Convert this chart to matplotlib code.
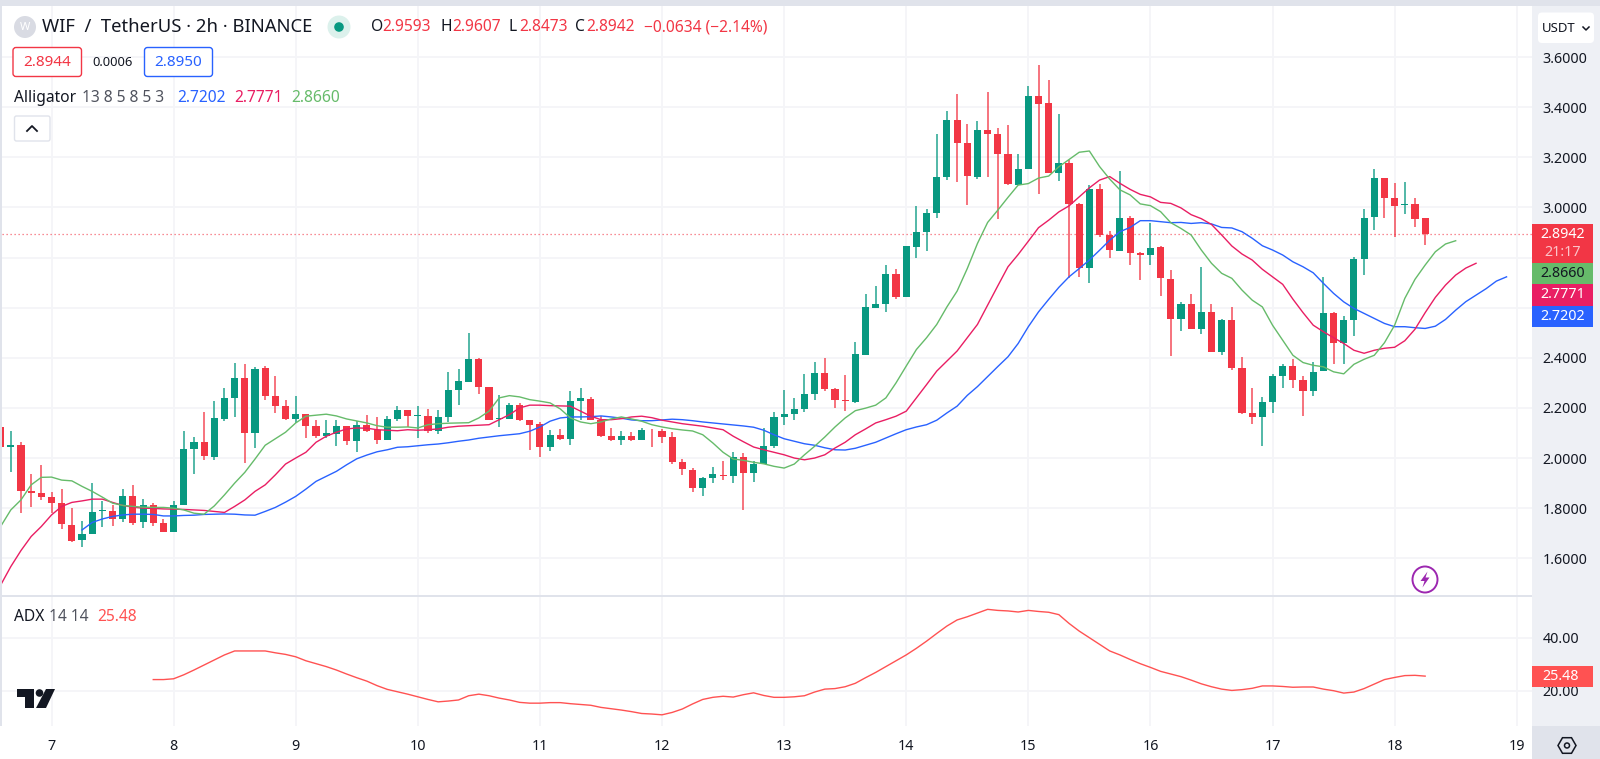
import numpy as np
import matplotlib
matplotlib.use("Agg")
import matplotlib.pyplot as plt
from matplotlib.patches import Rectangle, FancyBboxPatch, Circle, Polygon, RegularPolygon, Ellipse

plt.rcParams['font.family'] = ['Noto Sans', 'DejaVu Sans']

# candles, one every 2h, bar 0 is the 7th at 00:00
first_bar = -5
opens = [2.124, 2.044, 2.053, 1.868, 1.859,
         1.845, 1.819, 1.731, 1.673, 1.696, 1.787, 1.787, 1.757, 1.847, 1.744, 1.813, 1.741,
         1.703, 1.813, 2.036, 2.065, 2.004, 2.156, 2.241, 2.320, 2.099, 2.360, 2.249, 2.208,
         2.156, 2.177, 2.127, 2.089, 2.097, 2.127, 2.067, 2.131, 2.111, 2.071, 2.156, 2.191,
         2.169, 2.169, 2.108, 2.163, 2.271, 2.305, 2.397, 2.285, 2.157, 2.156, 2.213, 2.152,
         2.137, 2.045, 2.091, 2.075, 2.228, 2.237, 2.153, 2.089, 2.071, 2.088, 2.073, 2.113,
         2.109, 2.084, 1.984, 1.953, 1.879, 1.919, 1.933, 1.927, 2.003, 1.939, 1.977, 2.047,
         2.165, 2.177, 2.196, 2.256, 2.340, 2.275, 2.233, 2.224, 2.412, 2.599, 2.613, 2.736,
         2.641, 2.843, 2.903, 2.977, 3.121, 3.348, 3.256, 3.123, 3.308, 3.292, 3.214, 3.090,
         3.155, 3.445, 3.415, 3.139, 3.177, 3.012, 2.759, 3.072, 2.891, 2.828, 2.956, 2.819,
         2.812, 2.842, 2.715, 2.556, 2.615, 2.516, 2.581, 2.425, 2.549, 2.361, 2.181, 2.163,
         2.225, 2.328, 2.366, 2.311, 2.267, 2.347, 2.578, 2.460, 2.549, 2.794, 2.960, 3.117,
         3.039, 3.011, 3.014, 2.959]
closes = [2.044, 2.053, 1.869, 1.859, 1.843,
          1.819, 1.735, 1.671, 1.696, 1.783, 1.791, 1.757, 1.847, 1.741, 1.813, 1.739, 1.705,
          1.813, 2.036, 2.065, 2.007, 2.160, 2.241, 2.320, 2.099, 2.357, 2.249, 2.208, 2.156,
          2.177, 2.127, 2.089, 2.099, 2.127, 2.067, 2.131, 2.109, 2.071, 2.157, 2.191, 2.167,
          2.172, 2.108, 2.163, 2.272, 2.308, 2.397, 2.285, 2.152, 2.161, 2.213, 2.152, 2.133,
          2.045, 2.091, 2.075, 2.229, 2.240, 2.153, 2.089, 2.071, 2.088, 2.072, 2.112, 2.112,
          2.084, 1.984, 1.955, 1.879, 1.919, 1.935, 1.927, 2.004, 1.939, 1.977, 2.047, 2.164,
          2.177, 2.196, 2.257, 2.340, 2.275, 2.233, 2.227, 2.416, 2.601, 2.613, 2.736, 2.643,
          2.844, 2.903, 2.977, 3.122, 3.348, 3.255, 3.125, 3.308, 3.294, 3.214, 3.093, 3.155,
          3.445, 3.413, 3.139, 3.177, 3.012, 2.759, 3.072, 2.891, 2.829, 2.956, 2.819, 2.812,
          2.839, 2.719, 2.556, 2.615, 2.516, 2.581, 2.425, 2.550, 2.361, 2.180, 2.163, 2.225,
          2.329, 2.366, 2.311, 2.267, 2.344, 2.578, 2.460, 2.549, 2.794, 2.959, 3.117, 3.039,
          3.007, 3.014, 2.955, 2.894]
highs = [2.129, 2.107, 2.064, 1.937, 1.972,
         1.863, 1.877, 1.800, 1.749, 1.900, 1.829, 1.813, 1.877, 1.891, 1.837, 1.820, 1.756,
         1.829, 2.107, 2.084, 2.183, 2.229, 2.279, 2.380, 2.376, 2.364, 2.369, 2.327, 2.233,
         2.247, 2.177, 2.153, 2.153, 2.153, 2.127, 2.147, 2.173, 2.163, 2.169, 2.207, 2.191,
         2.207, 2.196, 2.193, 2.343, 2.357, 2.497, 2.400, 2.285, 2.251, 2.220, 2.220, 2.152,
         2.143, 2.113, 2.117, 2.269, 2.281, 2.244, 2.167, 2.119, 2.107, 2.103, 2.120, 2.115,
         2.116, 2.103, 1.996, 1.960, 1.923, 1.965, 1.989, 2.024, 2.020, 1.987, 2.120, 2.185,
         2.271, 2.241, 2.335, 2.383, 2.401, 2.280, 2.332, 2.463, 2.653, 2.686, 2.770, 2.756,
         2.847, 3.006, 2.993, 3.294, 3.384, 3.451, 3.333, 3.344, 3.459, 3.315, 3.330, 3.215,
         3.484, 3.568, 3.508, 3.372, 3.189, 3.018, 3.090, 3.093, 2.907, 3.146, 2.965, 2.823,
         2.936, 2.846, 2.749, 2.621, 2.653, 2.762, 2.613, 2.554, 2.602, 2.402, 2.279, 2.243,
         2.334, 2.377, 2.394, 2.329, 2.385, 2.721, 2.581, 2.566, 2.801, 2.994, 3.153, 3.119,
         3.096, 3.103, 3.039, 2.959]
lows = [2.044, 1.943, 1.780, 1.803, 1.833,
        1.780, 1.716, 1.664, 1.647, 1.696, 1.724, 1.727, 1.743, 1.732, 1.719, 1.729, 1.704,
        1.703, 1.813, 1.935, 1.993, 1.991, 2.147, 2.164, 1.980, 2.039, 2.233, 2.180, 2.153,
        2.140, 2.079, 2.079, 2.079, 2.047, 2.053, 2.023, 2.105, 2.057, 2.071, 2.149, 2.124,
        2.080, 2.100, 2.097, 2.145, 2.213, 2.305, 2.257, 2.152, 2.124, 2.156, 2.147, 2.032,
        2.003, 2.029, 2.073, 2.052, 2.153, 2.153, 2.084, 2.068, 2.052, 2.068, 2.073, 2.045,
        2.060, 1.975, 1.931, 1.863, 1.848, 1.899, 1.912, 1.899, 1.791, 1.903, 1.977, 2.039,
        2.131, 2.151, 2.183, 2.233, 2.268, 2.201, 2.187, 2.221, 2.412, 2.599, 2.583, 2.633,
        2.641, 2.800, 2.827, 2.957, 3.109, 3.102, 3.009, 3.114, 3.122, 2.954, 3.088, 3.088,
        3.155, 3.052, 3.139, 3.106, 2.720, 2.723, 2.699, 2.880, 2.799, 2.828, 2.771, 2.711,
        2.771, 2.647, 2.409, 2.508, 2.516, 2.496, 2.422, 2.412, 2.352, 2.177, 2.137, 2.048,
        2.179, 2.279, 2.280, 2.168, 2.249, 2.347, 2.374, 2.377, 2.488, 2.731, 2.911, 2.958,
        2.882, 2.974, 2.923, 2.849]

# alligator lines
lips_start = -5
lips = [1.727, 1.793, 1.833, 1.893, 1.923, 1.924, 1.912, 1.909, 1.887, 1.867, 1.844, 1.820, 1.811,
        1.807, 1.804, 1.803, 1.803, 1.800, 1.793, 1.780, 1.776, 1.809, 1.853, 1.900, 1.943, 1.996,
        2.051, 2.077, 2.103, 2.140, 2.167, 2.171, 2.175, 2.168, 2.156, 2.148, 2.140, 2.129, 2.123,
        2.123, 2.124, 2.120, 2.133, 2.137, 2.139, 2.140, 2.141, 2.160, 2.187, 2.240, 2.249, 2.244,
        2.233, 2.227, 2.220, 2.196, 2.160, 2.144, 2.137, 2.144, 2.156, 2.164, 2.156, 2.147, 2.133,
        2.124, 2.117, 2.112, 2.108, 2.093, 2.060, 2.023, 1.996, 1.991, 1.983, 1.977, 1.967, 1.960,
        1.976, 2.013, 2.047, 2.084, 2.124, 2.160, 2.189, 2.199, 2.211, 2.240, 2.300, 2.367, 2.433,
        2.480, 2.533, 2.603, 2.666, 2.756, 2.856, 2.940, 2.989, 3.040, 3.089, 3.095, 3.117, 3.125,
        3.162, 3.191, 3.220, 3.225, 3.163, 3.113, 3.070, 3.050, 3.014, 3.007, 2.983, 2.939, 2.916,
        2.890, 2.830, 2.777, 2.737, 2.717, 2.670, 2.630, 2.603, 2.530, 2.470, 2.410, 2.381, 2.370,
        2.364, 2.344, 2.336, 2.374, 2.394, 2.410, 2.460, 2.530, 2.637, 2.713, 2.770, 2.823, 2.854,
        2.867]
teeth_start = -5
teeth = [1.493, 1.567, 1.631, 1.687, 1.727, 1.773, 1.807, 1.823, 1.829, 1.836, 1.836, 1.823, 1.811,
         1.804, 1.800, 1.799, 1.797, 1.796, 1.795, 1.793, 1.791, 1.787, 1.783, 1.807, 1.833, 1.867,
         1.893, 1.933, 1.976, 2.000, 2.023, 2.063, 2.087, 2.103, 2.116, 2.120, 2.119, 2.113, 2.111,
         2.109, 2.113, 2.111, 2.113, 2.116, 2.123, 2.127, 2.129, 2.131, 2.133, 2.153, 2.173, 2.200,
         2.211, 2.211, 2.209, 2.208, 2.207, 2.187, 2.167, 2.153, 2.153, 2.157, 2.164, 2.167, 2.161,
         2.151, 2.144, 2.137, 2.132, 2.127, 2.120, 2.113, 2.087, 2.065, 2.044, 2.033, 2.023, 2.013,
         2.000, 1.993, 2.000, 2.013, 2.040, 2.063, 2.093, 2.116, 2.140, 2.153, 2.167, 2.187, 2.240,
         2.293, 2.347, 2.387, 2.427, 2.480, 2.533, 2.610, 2.687, 2.763, 2.812, 2.865, 2.919, 2.949,
         2.982, 3.006, 3.042, 3.078, 3.109, 3.123, 3.096, 3.072, 3.052, 3.042, 3.020, 3.016, 2.998,
         2.971, 2.955, 2.932, 2.890, 2.846, 2.814, 2.790, 2.753, 2.723, 2.693, 2.634, 2.580, 2.530,
         2.504, 2.480, 2.457, 2.430, 2.418, 2.430, 2.438, 2.442, 2.468, 2.514, 2.580, 2.641, 2.690,
         2.730, 2.758, 2.777]
jaw_start = 3
jaw = [1.713, 1.743, 1.757, 1.767, 1.773, 1.776, 1.776, 1.775, 1.769, 1.769, 1.771, 1.772, 1.775,
       1.776, 1.777, 1.776, 1.773, 1.772, 1.787, 1.803, 1.824, 1.847, 1.876, 1.907, 1.927, 1.947,
       1.973, 1.997, 2.012, 2.025, 2.033, 2.043, 2.045, 2.049, 2.053, 2.056, 2.061, 2.067, 2.072,
       2.079, 2.084, 2.089, 2.093, 2.097, 2.107, 2.124, 2.147, 2.160, 2.164, 2.164, 2.165, 2.168,
       2.164, 2.159, 2.152, 2.149, 2.149, 2.152, 2.155, 2.153, 2.149, 2.144, 2.140, 2.136, 2.132,
       2.128, 2.123, 2.111, 2.093, 2.077, 2.067, 2.057, 2.051, 2.041, 2.033, 2.032, 2.039, 2.051,
       2.063, 2.080, 2.097, 2.113, 2.124, 2.133, 2.151, 2.180, 2.207, 2.250, 2.285, 2.325, 2.365,
       2.404, 2.457, 2.524, 2.583, 2.633, 2.681, 2.723, 2.756, 2.790, 2.829, 2.869, 2.903, 2.920,
       2.947, 2.947, 2.943, 2.939, 2.940, 2.936, 2.939, 2.934, 2.920, 2.918, 2.903, 2.877, 2.847,
       2.830, 2.810, 2.783, 2.763, 2.739, 2.697, 2.657, 2.623, 2.597, 2.577, 2.557, 2.537, 2.524,
       2.524, 2.520, 2.517, 2.526, 2.553, 2.590, 2.624, 2.650, 2.676, 2.706, 2.723]

adx_start = 10
adx = [24.2, 24.2, 24.5, 26.0, 27.8, 29.7, 31.6, 33.5, 35.0, 35.0, 35.0, 35.0, 34.3, 33.7, 32.8, 31.3,
       30.2, 29.1, 27.8, 26.3, 24.9, 23.6, 21.9, 20.5, 19.6, 18.7, 17.7, 16.7, 15.8, 16.1, 16.5, 18.1,
       18.7, 18.1, 17.2, 16.5, 15.6, 15.3, 15.3, 15.5, 15.5, 15.1, 14.8, 14.5, 13.7, 13.2, 12.7, 12.1,
       11.4, 11.2, 10.9, 11.8, 13.1, 15.0, 16.7, 17.5, 17.9, 17.6, 18.5, 19.2, 18.2, 17.5, 17.5, 17.7,
       18.1, 19.5, 20.6, 20.8, 21.5, 22.8, 24.9, 26.9, 29.1, 31.3, 33.5, 36.0, 38.7, 41.6, 44.4, 46.7,
       47.9, 49.3, 50.7, 50.3, 50.1, 49.7, 50.3, 49.9, 49.6, 48.7, 45.4, 42.5, 40.0, 37.5, 35.0, 33.5,
       31.8, 30.2, 28.8, 27.3, 26.3, 25.3, 24.0, 22.6, 21.5, 20.6, 20.1, 20.4, 20.9, 21.8, 21.8, 21.6,
       21.3, 21.4, 21.4, 20.6, 20.0, 19.1, 19.5, 20.8, 22.5, 24.2, 25.0, 25.7, 25.8, 25.5]

day_labels = ['7', '8', '9', '10', '11', '12', '13', '14', '15', '16', '17', '18', '19']
bars_per_day = 12
price_ticks = [1.6, 1.8, 2.0, 2.2, 2.4, 2.6, 2.8, 3.0, 3.2, 3.4, 3.6]
covered_ticks = [2.6, 2.8]  # hidden behind the value tags in the reference
adx_ticks = [20, 40]
last_price = 2.8942

W, H = 1600, 759
UP, DOWN = '#089981', '#f23645'
BLUE, PINK, GREEN, ADX_RED = '#2962ff', '#e91e63', '#66bb6a', '#ff5252'
GRID = '#f4f5f8'
BORDER = '#e0e3eb'
AXIS_BG = '#eef0f5'
TEXT = '#131722'
GREY = '#50535e'

fig = plt.figure(figsize=(W / 100, H / 100), dpi=100, facecolor='white')


def pane(left, top, right, bottom):
    return fig.add_axes([left / W, 1 - bottom / H, (right - left) / W, (bottom - top) / H])


# grey columns behind the panes
fig.add_artist(Rectangle((1532 / W, 33 / H), 68 / W, 720 / H, transform=fig.transFigure,
                         color=AXIS_BG, lw=0, zorder=-2))

ax = pane(2, 6, 1532, 595.5)
ax2 = pane(2, 597, 1532, 726)

# ---- price pane
bars = np.arange(first_bar, first_bar + len(opens))
opens_a, closes_a = np.array(opens), np.array(closes)
colors = [UP if c >= o else DOWN for o, c in zip(opens, closes)]
ax.vlines(bars, lows, highs, colors=colors, lw=1.15, alpha=0.85, zorder=3)
ax.bar(bars, np.abs(closes_a - opens_a), bottom=np.minimum(opens_a, closes_a), width=0.7,
       color=colors, lw=0, zorder=4)

ax.plot(np.arange(jaw_start, jaw_start + len(jaw)), jaw, color=BLUE, lw=1.0, zorder=5)
ax.plot(np.arange(teeth_start, teeth_start + len(teeth)), teeth, color=PINK, lw=1.0, zorder=5)
ax.plot(np.arange(lips_start, lips_start + len(lips)), lips, color=GREEN, lw=1.0, zorder=5)
ax.axhline(last_price, color=DOWN, lw=0.9, ls=(0, (1, 2.2)), alpha=0.75, zorder=2)

xlim = (-4.865, 145.5)
ax.set_xlim(xlim)
ax.set_ylim(1.4516, 3.8035)
ax.set_yticks(price_ticks)
ax.set_yticklabels(['' if p in covered_ticks else '%.4f' % p for p in price_ticks])

# ---- ADX pane
ax2.plot(np.arange(adx_start, adx_start + len(adx)), adx, color=ADX_RED, lw=1.0, zorder=3)
ax2.set_xlim(xlim)
ax2.set_ylim(6.68, 55.36)
ax2.set_yticks(adx_ticks)
ax2.set_yticklabels(['%.2f' % v for v in adx_ticks])

ticks = [i * bars_per_day for i in range(len(day_labels))]
for a in (ax, ax2):
    a.set_facecolor('none')
    a.set_xticks(ticks)
    a.grid(True, color=GRID, lw=1.3, zorder=0)
    a.set_axisbelow(True)
    a.yaxis.tick_right()
    a.tick_params(axis='y', length=0, pad=7.5, labelsize=10.3, labelcolor=TEXT)
    for s in a.spines.values():
        s.set_visible(False)
ax.tick_params(axis='x', length=0, labelbottom=False)
ax2.tick_params(axis='x', length=0, pad=9, labelsize=10.3, labelcolor=TEXT)
ax2.set_xticklabels(day_labels)
ax2.get_xticklabels()[day_labels.index('18')].set_fontweight('bold')

# ---- chrome on top, in pixel coordinates
ui = fig.add_axes([0, 0, 1, 1], zorder=10)
ui.set_xlim(0, W)
ui.set_ylim(H, 0)
ui.axis('off')
ui.patch.set_visible(False)

ui.add_patch(Rectangle((0, 0), W, 6, color=BORDER, lw=0))
ui.add_patch(Rectangle((0, 0), 2, 726, color=BORDER, lw=0))
ui.add_patch(Rectangle((2, 595), 1530, 2.2, color=BORDER, lw=0))
ui.add_patch(Rectangle((1532, 726), 68, 33, color=BORDER, lw=0))


def label(x, y, s, color=TEXT, size=10, ha='left', weight='normal'):
    ui.text(x, y, s, color=color, fontsize=size, ha=ha, va='center', fontweight=weight)


def rbox(x0, y0, x1, y1, fc='white', ec='none', lw=1.0, r=3):
    ui.add_patch(FancyBboxPatch((x0 + r, y0 + r), x1 - x0 - 2 * r, y1 - y0 - 2 * r,
                                boxstyle='round,pad=%g,rounding_size=%g' % (r, r),
                                fc=fc, ec=ec, lw=lw))


# header
ui.add_patch(Circle((25, 27), 11, color='#d9dbe3', lw=0))
label(25, 27, 'W', color='white', size=8, ha='center', weight='bold')
label(41.5, 27, 'WIF  /  TetherUS · 2h · BINANCE', size=13.3)
ui.add_patch(Circle((339, 27), 11.5, color='#dcf1ec', lw=0))
ui.add_patch(Circle((339, 27), 4.8, color=UP, lw=0))
for name, x, x_val, val in [('O', 371, 382.5, '2.9593'), ('H', 440, 452, '2.9607'),
                            ('L', 509, 519, '2.8473'), ('C', 575, 586.5, '2.8942')]:
    label(x, 27, name, size=11.2)
    label(x_val, 27, val, color=DOWN, size=11.2)
label(643.5, 27, '−0.0634 (−2.14%)', color=DOWN, size=11.2)

rbox(13, 47.5, 81.5, 76.5, ec=DOWN, r=3)
label(47.3, 62, '2.8944', color=DOWN, size=11, ha='center')
label(113, 62, '0.0006', size=9.3, ha='center')
rbox(144.5, 47.5, 212.5, 76.5, ec=BLUE, r=3)
label(178.5, 62, '2.8950', color=BLUE, size=11, ha='center')

label(14, 97.5, 'Alligator', size=11.2)
label(82, 97.5, '13 8 5 8 5 3', color=GREY, size=11.2)
label(177, 97.5, '2.7202', color=BLUE, size=11.2)
label(234, 97.5, '2.7771', color=PINK, size=11.2)
label(291, 97.5, '2.8660', color=GREEN, size=11.2)
rbox(14.5, 116, 50, 141, ec=BORDER, lw=1.0, r=2)
ui.plot([27, 32, 37], [131, 126, 131], color=TEXT, lw=1.3)

# ADX legend
label(14, 617, 'ADX', size=11.2)
label(49, 617, '14 14', color=GREY, size=11.2)
label(97, 617, '25.48', color=ADX_RED, size=11.2)

# USDT button
rbox(1538, 12.5, 1594, 43, r=4)
label(1542, 28, 'USDT', size=9.5)
ui.plot([1583, 1586, 1589], [27, 30, 27], color=TEXT, lw=1.1)

# last value tags
ui.add_patch(Rectangle((1532, 223.5), 61, 39.5, color=DOWN, lw=0))
label(1562.5, 235, '2.8942', color='white', size=10.3, ha='center', weight='bold')
label(1562.5, 252, '21:17', color='#fbc4c9', size=10.3, ha='center', weight='bold')
for top, bottom, col, txt, tc in [(263, 284, GREEN, '2.8660', TEXT), (284, 305.5, PINK, '2.7771', 'white'),
                                  (305.5, 327, BLUE, '2.7202', 'white')]:
    ui.add_patch(Rectangle((1532, top), 61, bottom - top, color=col, lw=0))
    label(1562.5, (top + bottom) / 2, txt, color=tc, size=10.3, ha='center',
          weight='normal' if tc == TEXT else 'bold')
ui.add_patch(Rectangle((1532, 666), 61, 21, color=ADX_RED, lw=0))
label(1560.5, 676.5, '25.48', color='white', size=10.3, ha='center', weight='bold')

# lightning badge
ui.add_patch(Ellipse((1425, 579.5), 25, 26, fc='white', ec='#9c27b0', lw=1.4))
ui.add_patch(Polygon([(1427.5, 571.5), (1420.5, 581), (1424.5, 581), (1422.5, 587.5), (1429.5, 577.5),
                      (1425.5, 577.5)], closed=True, color='#9c27b0', lw=0))

# TradingView mark
ui.add_patch(Polygon([(17, 689), (34, 689), (34, 708), (25, 708), (25, 697), (17, 697)], closed=True,
                     color=TEXT, lw=0))
ui.add_patch(Circle((39.5, 693), 3.8, color=TEXT, lw=0))
ui.add_patch(Polygon([(46, 689), (55, 689), (46, 708), (36, 708)], closed=True, color=TEXT, lw=0))

# settings icon
ui.add_patch(RegularPolygon((1567, 745.5), 6, radius=9, orientation=np.pi / 6, fc='none', ec=TEXT, lw=1.1))
ui.add_patch(Circle((1567, 745.5), 2.5, fc='none', ec=TEXT, lw=1.1))

fig.savefig('out.png', dpi=100, facecolor='white')
